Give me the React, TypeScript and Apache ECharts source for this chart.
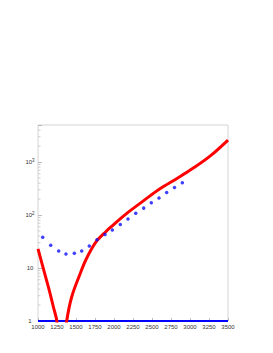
import React, { useEffect, useRef } from "react";
import * as echarts from "echarts";

const redX = [1000, 1050, 1100, 1150, 1200, 1250, 1300, 1340, 1378, 1443, 1553, 1632, 1763, 1895, 1974, 2184, 2408, 2605, 2829, 3039, 3263, 3500];
const redY = [23, 12.5, 6.8, 3.7, 1.9, 0.95, 0.1, 0.3, 1.0, 2.84, 7.7, 14.5, 31, 49, 62, 112, 195, 312, 490, 760, 1290, 2600];

const blueX = [1062, 1167, 1272, 1368, 1478, 1575, 1675, 1776, 1882, 1978, 2083, 2184, 2286, 2391, 2491, 2592, 2693, 2796, 2899];
const blueY = [38, 27, 21, 18.4, 19, 21, 26, 34, 43, 52, 66, 84, 108, 135, 171, 210, 265, 330, 407];

const baseX = [1000, 3500];
const baseY = [1, 1];

const minorTicks = [2, 3, 4, 5, 6, 7, 8, 9, 20, 30, 40, 50, 60, 70, 80, 90, 200, 300, 400, 500, 600, 700, 800, 900, 2000, 3000, 4000];

const xTickLabels = ["1000", "1250", "1500", "1750", "2000", "2250", "2500", "2750", "3000", "3250", "3500"];

export default function App() {
  const ref = useRef<HTMLDivElement>(null);
  useEffect(() => {
    if (!ref.current) return;
    const chart = echarts.init(ref.current, null, { renderer: "svg" });
    const font = "'Liberation Sans', Arial, sans-serif";
    chart.setOption({
      animation: false,
      backgroundColor: "#ffffff",
      grid: {
        left: 38,
        top: 125,
        width: 190,
        height: 196,
        show: true,
        borderColor: "#d4d4d4",
        borderWidth: 1,
        backgroundColor: "transparent",
      },
      xAxis: {
        type: "value",
        min: 1000,
        max: 3500,
        interval: 250,
        axisLine: { show: false },
        splitLine: { show: false },
        axisTick: { show: true, inside: true, length: 3, lineStyle: { color: "#bbbbbb" } },
        axisLabel: {
          fontSize: 6,
          fontFamily: font,
          color: "#333",
          margin: 3,
          hideOverlap: false,
          interval: 0,
          formatter: (v: number) => {
            const s = String(Math.round(v));
            return xTickLabels.indexOf(s) >= 0 ? s : "";
          },
        },
      },
      yAxis: {
        type: "log",
        logBase: 10,
        min: 1,
        max: 5000,
        axisLine: { show: false },
        splitLine: { show: false },
        axisTick: { show: true, inside: true, length: 4, lineStyle: { color: "#bbbbbb" } },
        axisLabel: {
          fontFamily: font,
          color: "#333",
          margin: 8,
          align: "center",
          formatter: (v: number) => {
            const e = Math.log10(v);
            if (Math.abs(e - Math.round(e)) > 1e-6) return "";
            const n = Math.round(e);
            if (n === 0) return "{b|1}";
            if (n === 1) return "{b|10}";
            return "{b|10}{s|" + n + "}";
          },
          rich: {
            b: { fontSize: 6, fontFamily: font, color: "#333" },
            s: { fontSize: 4.5, fontFamily: font, color: "#333", padding: [0, 0, 4, 0] },
          },
        },
      },
      series: [
        {
          type: "custom",
          silent: true,
          clip: false,
          data: minorTicks.map((v) => [1000, v]),
          renderItem: (params: any, api: any) => {
            const p = api.coord([api.value(0), api.value(1)]);
            return {
              type: "line",
              shape: { x1: p[0], y1: p[1], x2: p[0] + 2.5, y2: p[1] },
              style: { stroke: "#cccccc", lineWidth: 1 },
            };
          },
        },
        {
          type: "line",
          data: baseX.map((x, i) => [x, baseY[i]]),
          symbol: "none",
          lineStyle: { color: "#0000ff", width: 2 },
          clip: true,
          z: 3,
        },
        {
          type: "line",
          data: redX.map((x, i) => [x, redY[i]]),
          symbol: "none",
          smooth: 0.35,
          lineStyle: { color: "#ff0000", width: 3 },
          clip: true,
          z: 4,
        },
        {
          type: "scatter",
          data: blueX.map((x, i) => [x, blueY[i]]),
          symbol: "circle",
          symbolSize: 3.5,
          itemStyle: { color: "#1010ff" },
          z: 5,
        },
      ],
    });
    return () => chart.dispose();
  }, []);
  return (
    <div
      ref={ref}
      style={{ position: "fixed", left: 0, top: 0, width: 273, height: 353 }}
    />
  );
}
